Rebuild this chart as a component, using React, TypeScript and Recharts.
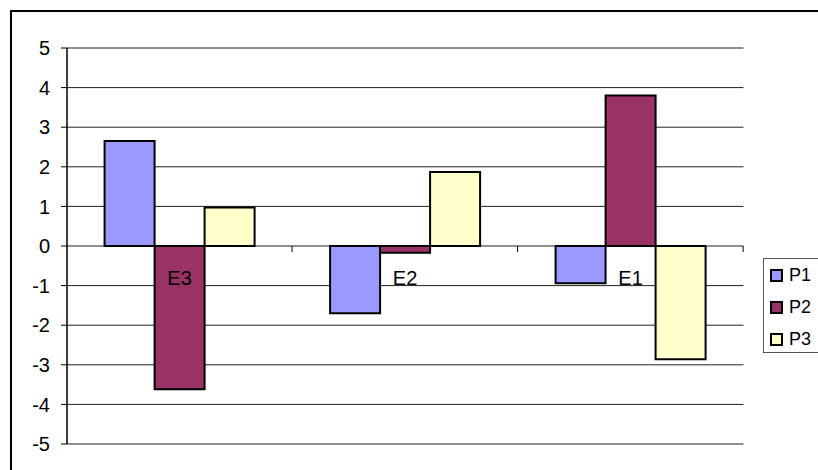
import React from "react";
import { BarChart, Bar, XAxis, YAxis, CartesianGrid, LabelList } from "recharts";

const categories = ["E3", "E2", "E1"];
const seriesNames = ["P1", "P2", "P3"];
const p1Values = [2.65, -1.7, -0.94];
const p2Values = [-3.62, -0.17, 3.8];
const p3Values = [0.97, 1.87, -2.86];
const yTicks = [-5, -4, -3, -2, -1, 0, 1, 2, 3, 4, 5];
const colors = ["#9999FF", "#993366", "#FFFFCC"];

const data = categories.map((c, i) => ({
  cat: c,
  P1: p1Values[i],
  P2: p2Values[i],
  P3: p3Values[i],
}));

const FONT = "'Liberation Sans', Arial, sans-serif";

const CatLabel = (props: any) => {
  const { x, y, width, height, value } = props;
  const cx = x + width / 2;
  const zeroY = y + height;
  const band = width * 4.5;
  const bx = cx + band / 2;
  return (
    <g>
      <text
        x={cx}
        y={zeroY + 39}
        textAnchor="middle"
        fontSize={20}
        fontFamily={FONT}
        fill="#000"
      >
        {value}
      </text>
      <line x1={bx} x2={bx} y1={zeroY} y2={zeroY + 6} stroke="#000" strokeWidth={1} />
    </g>
  );
};

export default function App() {
  return (
    <div
      style={{
        position: "fixed",
        left: 0,
        top: 0,
        width: 818,
        height: 470,
        overflow: "hidden",
        background: "#fff",
      }}
    >
      <div
        style={{
          position: "absolute",
          left: 10,
          top: 10,
          width: 900,
          height: 900,
          border: "2px solid #000",
          boxSizing: "border-box",
        }}
      />
      <div style={{ position: "absolute", left: 0, top: 0 }}>
        <BarChart
          width={818}
          height={470}
          data={data}
          margin={{ top: 48, right: 74.5, bottom: 26, left: 0 }}
          barCategoryGap="16.67%"
          barGap={0}
        >
          <CartesianGrid vertical={false} stroke="#222" strokeWidth={1} yAxisId="l" xAxisId="b" />
          <XAxis
            xAxisId="b"
            dataKey="cat"
            height={0}
            tick={false}
            tickLine={false}
            axisLine={{ stroke: "#808080", strokeWidth: 2 }}
          />
          <XAxis
            xAxisId="t"
            orientation="top"
            dataKey="cat"
            height={0}
            tick={false}
            tickLine={false}
            axisLine={{ stroke: "#808080", strokeWidth: 2 }}
          />
          <YAxis
            yAxisId="l"
            domain={[-5, 5]}
            ticks={yTicks}
            width={67}
            interval={0}
            tickSize={6}
            tickMargin={11}
            tickLine={{ stroke: "#000" }}
            axisLine={{ stroke: "#000", strokeWidth: 1.5 }}
            tick={{ fill: "#000", fontSize: 20, fontFamily: FONT }}
          />
          <YAxis
            yAxisId="r"
            orientation="right"
            domain={[-5, 5]}
            width={0}
            tick={false}
            tickLine={false}
            axisLine={{ stroke: "#808080", strokeWidth: 2 }}
          />
          {seriesNames.map((s, i) => (
            <Bar
              key={s}
              dataKey={s}
              xAxisId="b"
              yAxisId="l"
              fill={colors[i]}
              stroke="#000"
              strokeWidth={2}
              isAnimationActive={false}
            >
              {i === 1 ? <LabelList dataKey="cat" content={CatLabel} /> : null}
            </Bar>
          ))}
        </BarChart>
      </div>
      <div
        style={{
          position: "absolute",
          left: 763,
          top: 258,
          width: 80,
          height: 95,
          border: "1.5px solid #555",
          boxSizing: "border-box",
          fontFamily: FONT,
          fontSize: 18,
          background: "#fff",
        }}
      >
        {seriesNames.map((s, i) => (
          <div
            key={s}
            style={{
              position: "absolute",
              left: 6,
              top: 6 + i * 32,
              height: 20,
              display: "flex",
              alignItems: "center",
            }}
          >
            <span
              style={{
                display: "inline-block",
                width: 13,
                height: 13,
                background: colors[i],
                border: "2px solid #000",
                boxSizing: "border-box",
                marginRight: 6,
              }}
            />
            <span style={{ lineHeight: "20px" }}>{s}</span>
          </div>
        ))}
      </div>
    </div>
  );
}
